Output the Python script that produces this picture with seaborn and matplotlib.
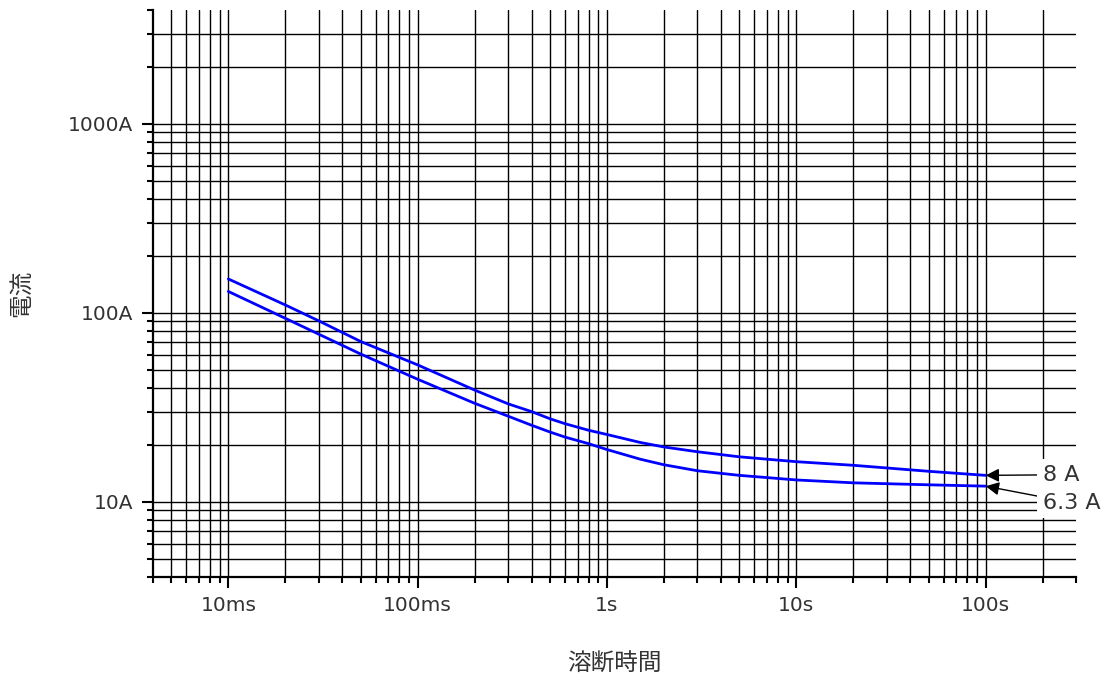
import numpy as np
import pandas as pd
import matplotlib
matplotlib.use('Agg')
import matplotlib.pyplot as plt
import seaborn as sns
from matplotlib.ticker import FixedLocator, NullFormatter

# melting time (s) vs current (A)
times = [0.01, 0.02, 0.03, 0.05, 0.1, 0.2, 0.3, 0.4, 0.5, 0.6, 0.8, 1,
         1.5, 2, 3, 5, 10, 20, 50, 100]
amps_8a = [151, 110, 90.7, 70.5, 53, 39, 33.0, 30.0, 27.5, 25.9, 23.9, 22.7,
           20.6, 19.5, 18.4, 17.3, 16.3, 15.6, 14.5, 13.8]
amps_6a3 = [129.7, 93.5, 77.1, 60.5, 44.5, 33.2, 28.4, 25.4, 23.4, 22.0,
            20.3, 18.9, 16.8, 15.7, 14.6, 13.8, 13.05, 12.6, 12.3, 12.1]
series_names = ['8 A', '6.3 A']

x_ticks = [0.01, 0.1, 1, 10, 100]
x_ticklabels = ['10ms', '100ms', '1s', '10s', '100s']
y_ticks = [10, 100, 1000]
y_ticklabels = ['10A', '100A', '1000A']
xlim = (0.004, 300)
ylim = (4, 4000)

df = pd.concat([
    pd.DataFrame({'t': times, 'i': amps_8a, 'fuse': series_names[0]}),
    pd.DataFrame({'t': times, 'i': amps_6a3, 'fuse': series_names[1]}),
])

sns.set_style('white')
plt.rcParams['font.family'] = ['DejaVu Sans', 'Noto Sans CJK JP']

fig = plt.figure(figsize=(11.03, 6.79), dpi=100)
ax = fig.add_axes([0.1387, 0.1502, 0.8368, 0.8351])

ax.set_xscale('log')
ax.set_yscale('log')
ax.set_xlim(*xlim)
ax.set_ylim(*ylim)


def log_steps(lo, hi):
    vals = []
    for e in range(-4, 5):
        for k in range(1, 10):
            v = k * 10.0 ** e
            if lo * 0.999 <= v <= hi * 1.001:
                vals.append(v)
    return vals


xs = log_steps(*xlim)
ys = log_steps(*ylim)
for v in xs:
    if xlim[0] * 1.01 < v < xlim[1] * 0.99:
        ax.axvline(v, color='black', lw=1.0, zorder=1)
for v in ys:
    if ylim[0] * 1.01 < v < ylim[1] * 0.99:
        ax.axhline(v, color='black', lw=1.0, zorder=1)

sns.lineplot(data=df, x='t', y='i', hue='fuse', palette=['#0000ff', '#0000ff'],
             legend=False, lw=2, ax=ax, zorder=3)

ax.xaxis.set_major_locator(FixedLocator(x_ticks))
ax.xaxis.set_minor_locator(FixedLocator([v for v in xs if v not in x_ticks]))
ax.yaxis.set_major_locator(FixedLocator(y_ticks))
ax.yaxis.set_minor_locator(FixedLocator([v for v in ys if v not in y_ticks]))
ax.set_xticklabels(x_ticklabels)
ax.set_yticklabels(y_ticklabels)
ax.xaxis.set_minor_formatter(NullFormatter())
ax.yaxis.set_minor_formatter(NullFormatter())

ax.tick_params(which='major', direction='out', length=8, width=1.5,
               color='black', labelsize=14.5, labelcolor='#333333', pad=6,
               bottom=True, left=True)
ax.tick_params(which='minor', direction='out', length=4, width=1.5,
               color='black', bottom=True, left=True)

for s in ['top', 'right']:
    ax.spines[s].set_visible(False)
for s in ['left', 'bottom']:
    ax.spines[s].set_color('black')
    ax.spines[s].set_linewidth(1.6)
    ax.spines[s].set_zorder(4)

ax.set_xlabel('溶断時間', fontsize=17, color='#333333', va='center', ha='center')
ax.set_ylabel('電流', fontsize=17, color='#333333', va='center', ha='center')
ax.xaxis.set_label_coords(0.5, -0.153)
ax.yaxis.set_label_coords(-0.143, 0.5)

# callouts at the curve ends
label_y = [13.9, 9.9]
for name, amps, ly in zip(series_names, [amps_8a, amps_6a3], label_y):
    ax.annotate(name, xy=(times[-1], amps[-1]), xytext=(200, ly),
                fontsize=16, color='#333333', ha='left', va='center',
                annotation_clip=False, zorder=5,
                bbox=dict(boxstyle='square,pad=0.25', fc='white', ec='none'),
                arrowprops=dict(arrowstyle='-|>', color='black', lw=1,
                                shrinkA=0, shrinkB=0, mutation_scale=20))

fig.savefig('out.png', dpi=100)
